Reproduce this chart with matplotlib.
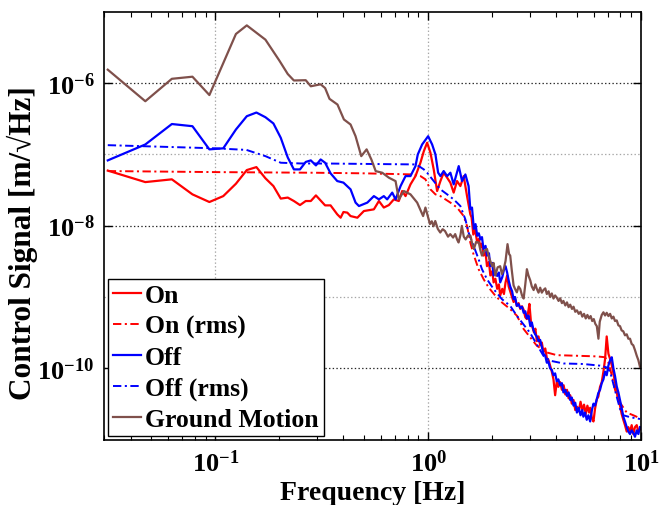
import matplotlib
matplotlib.use('Agg')
import matplotlib.pyplot as plt
from matplotlib.ticker import NullLocator, NullFormatter

# ---- data (frequency in Hz, amplitude in m/sqrt(Hz)) ----
f_on = [0.03125, 0.0469, 0.0625, 0.0781, 0.0938, 0.109, 0.125, 0.1406, 0.156, 0.172,
        0.1875, 0.203, 0.219, 0.234, 0.25, 0.266, 0.281, 0.297, 0.3125, 0.328,
        0.348, 0.374, 0.388, 0.40, 0.417, 0.432, 0.465, 0.499, 0.556, 0.587,
        0.619, 0.654, 0.690, 0.728, 0.755, 0.783, 0.826, 0.872, 0.920, 0.954,
        0.989, 1.025, 1.062, 1.102, 1.142, 1.183, 1.228, 1.272, 1.318, 1.367,
        1.417, 1.469, 1.523, 1.578, 1.60, 1.63, 1.66, 1.70, 1.73, 1.76,
        1.79, 1.82, 1.86, 1.89, 1.93, 1.96, 2.00, 2.03, 2.07, 2.11,
        2.15, 2.18, 2.23, 2.27, 2.31, 2.35, 2.39, 2.43, 2.48, 2.52,
        2.56, 2.61, 2.66, 2.71, 2.76, 2.81, 2.86, 2.91, 2.96, 2.99,
        3.04, 3.09, 3.14, 3.19, 3.24, 3.30, 3.36, 3.42, 3.48, 3.55,
        3.61, 3.68, 3.74, 3.81, 3.88, 3.95, 4.02, 4.09, 4.17, 4.25,
        4.33, 4.41, 4.49, 4.57, 4.65, 4.73, 4.82, 4.91, 5.00, 5.10,
        5.20, 5.30, 5.40, 5.50, 5.60, 5.70, 5.77, 5.88, 5.98, 6.08,
        6.20, 6.30, 6.42, 6.54, 6.66, 6.78, 6.90, 7.03, 7.16, 7.29,
        7.42, 7.55, 7.69, 7.83, 7.97, 8.11, 8.26, 8.41, 8.57, 8.72,
        8.88, 9.04, 9.20, 9.37, 9.55, 9.72, 9.89]
on_psd = [5.9e-8, 4.07e-8, 4.45e-8, 2.74e-8, 2.14e-8, 2.59e-8, 3.86e-8, 6.0e-8, 6.6e-8, 4.6e-8,
          3.58e-8, 2.39e-8, 2.47e-8, 2.21e-8, 1.94e-8, 2.21e-8, 2.21e-8, 2.65e-8, 2.25e-8, 1.92e-8,
          1.92e-8, 1.44e-8, 1.29e-8, 1.55e-8, 1.52e-8, 1.36e-8, 1.29e-8, 1.60e-8, 1.69e-8, 2.21e-8,
          1.79e-8, 1.94e-8, 2.33e-8, 2.21e-8, 3.05e-8, 2.59e-8, 3.78e-8, 4.94e-8, 7.6e-8, 1.10e-7,
          1.45e-7, 1.05e-7, 6.13e-8, 3.05e-8, 4.21e-8, 5.51e-8, 4.69e-8, 3.99e-8, 2.9e-8, 4.21e-8,
          3.58e-8, 4.94e-8, 2.59e-8, 1.44e-8, 1.3e-8, 7.5e-9, 9.0e-9, 5.8e-9, 6.5e-9, 5.0e-9,
          5.6e-9, 3.8e-9, 4.2e-9, 2.7e-9, 3.1e-9, 2.0e-9, 2.3e-9, 1.6e-9, 1.8e-9, 1.3e-9,
          1.5e-9, 1.05e-9, 1.3e-9, 1.1e-9, 1.6e-9, 2.0e-9, 1.4e-9, 1.2e-9, 1.0e-9, 8.5e-10,
          9.5e-10, 7.5e-10, 8.2e-10, 6.8e-10, 7.4e-10, 6.6e-10, 5.2e-10, 4.9e-10, 6.5e-10, 8.0e-10,
          4.5e-10, 3.8e-10, 3.2e-10, 3.6e-10, 2.4e-10, 2.8e-10, 2.1e-10, 2.3e-10, 1.7e-10, 1.9e-10,
          1.4e-10, 1.3e-10, 1.1e-10, 9.0e-11, 7.0e-11, 4.2e-11, 6.5e-11, 5.5e-11, 6.4e-11, 5.0e-11,
          5.8e-11, 4.3e-11, 5.0e-11, 3.8e-11, 4.2e-11, 3.2e-11, 3.6e-11, 2.6e-11, 2.9e-11, 2.5e-11,
          3.4e-11, 2.6e-11, 3.1e-11, 2.3e-11, 3.0e-11, 2.4e-11, 2.8e-11, 2.0e-11, 1.8e-11, 2.7e-11,
          3.7e-11, 4.0e-11, 5.5e-11, 6.4e-11, 9.0e-11, 1.35e-10, 2.8e-10, 1.6e-10, 1.35e-10, 1.1e-10,
          8.5e-11, 6.4e-11, 4.6e-11, 3.6e-11, 3.0e-11, 2.3e-11, 1.9e-11, 1.6e-11, 1.3e-11, 1.5e-11,
          1.3e-11, 1.6e-11, 1.2e-11, 1.5e-11, 1.6e-11, 1.3e-11, 1.4e-11]

f_on_rms = [0.03125, 0.1, 0.3, 0.5, 0.856, 0.92, 0.971, 1.025, 1.082, 1.142,
            1.272, 1.367, 1.469, 1.523, 1.578, 1.636, 1.726, 1.823, 1.923, 2.07,
            2.223, 2.43, 2.614, 2.81, 3.243, 3.61, 4.02, 5.0, 6.2, 6.78,
            7.03, 7.29, 7.55, 7.97, 8.57, 9.2, 9.89]
on_rms = [5.81e-8, 5.62e-8, 5.5e-8, 5.4e-8, 5.21e-8, 4.94e-8, 4.45e-8, 3.22e-8, 2.74e-8, 2.59e-8,
          2.10e-8, 1.79e-8, 1.36e-8, 9.9e-9, 5.78e-9, 3.9e-9, 2.45e-9, 1.77e-9, 1.36e-9, 1.04e-9,
          8.37e-10, 6.75e-10, 5.45e-10, 3.55e-10, 2.07e-10, 1.67e-10, 1.53e-10, 1.50e-10, 1.47e-10, 1.43e-10,
          1.2e-10, 8.0e-11, 5.0e-11, 3.3e-11, 2.4e-11, 2.2e-11, 2.0e-11]

f_off = [0.03125, 0.0469, 0.0625, 0.0781, 0.0938, 0.109, 0.125, 0.1406, 0.156, 0.172,
         0.1875, 0.203, 0.219, 0.234, 0.25, 0.266, 0.281, 0.297, 0.3125, 0.328,
         0.348, 0.374, 0.40, 0.432, 0.456, 0.473, 0.518, 0.556, 0.587, 0.619,
         0.642, 0.678, 0.703, 0.742, 0.783, 0.826, 0.872, 0.894, 0.937, 1.0,
         1.044, 1.082, 1.114, 1.142, 1.183, 1.228, 1.272, 1.318, 1.392, 1.443,
         1.496, 1.549, 1.578, 1.607, 1.64, 1.67, 1.70, 1.73, 1.76, 1.79,
         1.82, 1.86, 1.89, 1.93, 1.96, 2.00, 2.03, 2.07, 2.11, 2.15,
         2.18, 2.23, 2.27, 2.31, 2.35, 2.39, 2.43, 2.48, 2.52, 2.56,
         2.61, 2.66, 2.71, 2.76, 2.81, 2.86, 2.91, 2.96, 3.02, 3.07,
         3.12, 3.18, 3.24, 3.30, 3.36, 3.42, 3.48, 3.55, 3.61, 3.67,
         3.74, 3.81, 3.88, 3.95, 4.02, 4.09, 4.17, 4.25, 4.32, 4.41,
         4.49, 4.57, 4.65, 4.73, 4.82, 4.91, 5.00, 5.10, 5.20, 5.30,
         5.36, 5.46, 5.56, 5.66, 5.77, 5.88, 5.98, 6.08, 6.20, 6.30,
         6.42, 6.54, 6.66, 6.78, 6.90, 7.03, 7.16, 7.29, 7.42, 7.55,
         7.69, 7.83, 7.97, 8.11, 8.26, 8.41, 8.57, 8.72, 8.88, 9.04,
         9.20, 9.37, 9.55, 9.72, 9.89]
off_psd = [8.2e-8, 1.37e-7, 2.65e-7, 2.47e-7, 1.17e-7, 1.21e-7, 2.22e-7, 3.41e-7, 3.84e-7, 3.3e-7,
           2.7e-7, 1.70e-7, 9.0e-8, 6.13e-8, 6.13e-8, 7.8e-8, 8.2e-8, 6.97e-8, 8.45e-8, 7.6e-8,
           5.4e-8, 4.21e-8, 4.0e-8, 3.22e-8, 2.10e-8, 1.88e-8, 2.10e-8, 2.59e-8, 2.33e-8, 2.59e-8,
           2.33e-8, 2.9e-8, 2.33e-8, 3.58e-8, 4.94e-8, 4.94e-8, 6.82e-8, 9.93e-8, 1.37e-7, 1.79e-7,
           1.37e-7, 9.93e-8, 5.51e-8, 4.94e-8, 5.81e-8, 4.94e-8, 5.51e-8, 3.78e-8, 6.82e-8, 4.21e-8,
           5.21e-8, 3.58e-8, 1.69e-8, 1.79e-8, 9.0e-9, 1.05e-8, 7.2e-9, 7.8e-9, 6.4e-9, 6.9e-9,
           4.7e-9, 5.2e-9, 3.8e-9, 4.1e-9, 2.7e-9, 3.0e-9, 2.0e-9, 2.3e-9, 1.97e-9, 2.2e-9,
           1.6e-9, 1.9e-9, 2.4e-9, 2.7e-9, 2.2e-9, 1.7e-9, 1.4e-9, 1.2e-9, 9.3e-10, 1.0e-9,
           7.5e-10, 7.9e-10, 7.0e-10, 7.3e-10, 6.0e-10, 6.3e-10, 5.0e-10, 5.5e-10, 3.9e-10, 4.4e-10,
           3.5e-10, 3.0e-10, 2.8e-10, 2.4e-10, 2.5e-10, 2.0e-10, 1.6e-10, 1.5e-10, 1.2e-10, 1.25e-10,
           1.0e-10, 9.5e-11, 8.0e-11, 8.5e-11, 6.6e-11, 7.0e-11, 5.8e-11, 6.2e-11, 4.6e-11, 5.0e-11,
           4.1e-11, 4.6e-11, 3.6e-11, 3.9e-11, 3.0e-11, 3.3e-11, 2.4e-11, 2.8e-11, 2.2e-11, 2.6e-11,
           2.1e-11, 2.4e-11, 1.9e-11, 2.2e-11, 1.8e-11, 2.6e-11, 3.2e-11, 3.0e-11, 3.7e-11, 4.5e-11,
           5.0e-11, 6.2e-11, 7.0e-11, 9.0e-11, 8.0e-11, 1.1e-10, 1.3e-10, 1.43e-10, 1.0e-10, 7.8e-11,
           5.6e-11, 4.6e-11, 3.6e-11, 2.8e-11, 2.1e-11, 1.8e-11, 1.5e-11, 1.3e-11, 1.2e-11, 1.35e-11,
           1.25e-11, 1.1e-11, 1.35e-11, 1.2e-11, 1.5e-11]

f_off_rms = [0.03125, 0.1, 0.14, 0.172, 0.203, 0.25, 0.35, 0.856, 0.904, 0.954,
             0.989, 1.062, 1.142, 1.228, 1.318, 1.417, 1.496, 1.549, 1.636, 1.726,
             1.79, 1.891, 2.03, 2.223, 2.43, 2.61, 3.02, 3.48, 3.74, 4.32,
             5.36, 6.42, 6.9, 7.16, 7.42, 7.69, 7.97, 8.26, 8.88, 9.89]
off_rms = [1.34e-7, 1.21e-7, 1.15e-7, 9.4e-8, 7.6e-8, 7.43e-8, 7.4e-8, 7.2e-8, 6.82e-8, 6.13e-8,
           5.51e-8, 4.21e-8, 3.22e-8, 2.74e-8, 2.33e-8, 1.88e-8, 1.22e-8, 7.98e-9, 5.19e-9, 3.38e-9,
           2.45e-9, 1.77e-9, 1.29e-9, 9.3e-10, 7.5e-10, 5.45e-10, 3.1e-10, 1.5e-10, 1.28e-10, 1.17e-10,
           1.15e-10, 1.09e-10, 1.03e-10, 9.0e-11, 6.0e-11, 4.0e-11, 2.7e-11, 2.2e-11, 2.07e-11, 1.95e-11]

f_ground = [0.03125, 0.0469, 0.0625, 0.0781, 0.0938, 0.125, 0.1406, 0.172, 0.20, 0.219,
            0.234, 0.266, 0.281, 0.3125, 0.328, 0.344, 0.375, 0.402, 0.432, 0.456,
            0.485, 0.514, 0.541, 0.567, 0.609, 0.654, 0.703, 0.728, 0.769, 0.826,
            0.888, 0.947, 0.971, 1.00, 1.02, 1.04, 1.06, 1.08, 1.11, 1.14,
            1.17, 1.20, 1.24, 1.27, 1.31, 1.34, 1.37, 1.39, 1.42, 1.44,
            1.47, 1.50, 1.54, 1.58, 1.61, 1.64, 1.68, 1.73, 1.76, 1.79,
            1.83, 1.89, 1.93, 2.00, 2.03, 2.07, 2.12, 2.18, 2.22, 2.26,
            2.31, 2.36, 2.40, 2.43, 2.47, 2.52, 2.56, 2.61, 2.66, 2.71,
            2.76, 2.81, 2.86, 2.91, 2.96, 3.02, 3.07, 3.13, 3.19, 3.24,
            3.30, 3.36, 3.42, 3.48, 3.55, 3.61, 3.68, 3.74, 3.81, 3.88,
            3.95, 4.02, 4.10, 4.17, 4.25, 4.32, 4.41, 4.49, 4.57, 4.65,
            4.74, 4.82, 4.91, 5.00, 5.10, 5.20, 5.30, 5.40, 5.50, 5.60,
            5.70, 5.80, 5.90, 6.00, 6.10, 6.20, 6.31, 6.40, 6.54, 6.66,
            6.78, 6.90, 7.03, 7.16, 7.29, 7.42, 7.55, 7.69, 7.83, 7.97,
            8.11, 8.26, 8.41, 8.57, 8.72, 8.88, 9.04, 9.20, 9.37, 9.55,
            9.72, 9.89]
ground_psd = [1.53e-6, 5.53e-7, 1.14e-6, 1.22e-6, 6.75e-7, 4.84e-6, 6.39e-6, 4.03e-6, 2.05e-6, 1.33e-6,
              1.08e-6, 1.09e-6, 8.96e-7, 9.55e-7, 8.46e-7, 5.97e-7, 4.97e-7, 3.07e-7, 2.61e-7, 1.79e-7,
              9.4e-8, 1.17e-7, 8.45e-8, 5.8e-8, 5.5e-8, 4.69e-8, 4.2e-8, 2.33e-8, 3.05e-8, 2.74e-8,
              2.1e-8, 1.36e-8, 1.79e-8, 1.31e-8, 1.05e-8, 1.15e-8, 9.8e-9, 1.16e-8, 9.0e-9, 8.0e-9,
              8.9e-9, 8.4e-9, 7.0e-9, 7.6e-9, 6.8e-9, 7.6e-9, 6.3e-9, 5.8e-9, 7.5e-9, 9.9e-9,
              7.0e-9, 6.4e-9, 7.3e-9, 7.2e-9, 5.6e-9, 4.7e-9, 5.9e-9, 5.8e-9, 4.5e-9, 3.8e-9,
              4.4e-9, 4.7e-9, 3.6e-9, 2.7e-9, 3.0e-9, 2.0e-9, 2.6e-9, 2.7e-9, 2.1e-9, 2.4e-9,
              3.2e-9, 5.5e-9, 4.0e-9, 3.8e-9, 2.4e-9, 1.45e-9, 1.3e-9, 1.16e-9, 1.4e-9, 1.29e-9,
              1.05e-9, 9.5e-10, 1.5e-9, 2.45e-9, 2.0e-9, 1.7e-9, 1.4e-9, 1.25e-9, 1.5e-9, 1.3e-9,
              1.15e-9, 1.35e-9, 1.15e-9, 1.25e-9, 1.32e-9, 1.1e-9, 1.2e-9, 1.0e-9, 1.12e-9, 9.5e-10,
              1.05e-9, 9.8e-10, 8.8e-10, 9.6e-10, 8.2e-10, 8.8e-10, 7.6e-10, 8.4e-10, 7.2e-10, 7.8e-10,
              6.8e-10, 7.3e-10, 6.2e-10, 6.5e-10, 5.8e-10, 6.2e-10, 5.3e-10, 5.8e-10, 5.0e-10, 5.6e-10,
              5.0e-10, 5.4e-10, 4.6e-10, 4.9e-10, 4.2e-10, 3.9e-10, 2.6e-10, 4.5e-10, 5.6e-10, 6.1e-10,
              5.5e-10, 6.0e-10, 5.4e-10, 5.8e-10, 5.0e-10, 5.3e-10, 4.6e-10, 4.7e-10, 4.0e-10, 3.9e-10,
              3.4e-10, 3.3e-10, 2.9e-10, 3.0e-10, 2.6e-10, 2.6e-10, 2.2e-10, 2.1e-10, 1.8e-10, 1.5e-10,
              1.3e-10, 1.05e-10]

x_ticks = [0.1, 1, 10]
x_tick_labels = [r'$10^{-1}$', r'$10^{0}$', r'$10^{1}$']
y_ticks = [1e-10, 1e-8, 1e-6]
y_tick_labels = [r'$10^{-10}$', r'$10^{-8}$', r'$10^{-6}$']
y_grid_minor = [1e-9, 1e-7]

# ---- style ----
plt.rcParams['font.family'] = ['Liberation Serif', 'DejaVu Serif']
plt.rcParams['font.weight'] = 'bold'
plt.rcParams['mathtext.fontset'] = 'custom'
plt.rcParams['mathtext.rm'] = 'Liberation Serif:bold'
plt.rcParams['mathtext.bf'] = 'Liberation Serif:bold'
plt.rcParams['mathtext.it'] = 'Liberation Serif:bold:italic'
plt.rcParams['lines.scale_dashes'] = False

red = '#ff0000'
blue = '#0000ff'
brown = '#7f504b'
dashdot = (0, (6, 2.5, 1.5, 2.5))

fig = plt.figure(figsize=(6.68, 5.06), dpi=100)
ax = fig.add_axes([104 / 668, 1 - 440.7 / 506, (641 - 104) / 668, (440.7 - 12.5) / 506])

ax.loglog(f_on, on_psd, color=red, lw=1.6, label='On')
ax.loglog(f_on_rms, on_rms, color=red, lw=1.4, ls=dashdot, label='On (rms)')
ax.loglog(f_off, off_psd, color=blue, lw=1.6, label='Off')
ax.loglog(f_off_rms, off_rms, color=blue, lw=1.4, ls=dashdot, label='Off (rms)')
ax.loglog(f_ground, ground_psd, color=brown, lw=1.6, label='Ground Motion')

ax.set_xlim(0.03, 10)
ax.set_ylim(1e-11, 1e-5)

ax.set_xticks(x_ticks)
ax.set_xticklabels(x_tick_labels)
ax.set_yticks(y_ticks)
ax.set_yticklabels(y_tick_labels)
ax.yaxis.set_minor_locator(NullLocator())
ax.set_yticks(y_grid_minor, minor=True)
ax.yaxis.set_minor_formatter(NullFormatter())

ax.tick_params(which='both', direction='in', top=True, right=True, labelsize=19)
ax.tick_params(which='major', length=6, width=1, pad=7)
ax.tick_params(which='minor', length=3.5, width=0.8)
ax.tick_params(axis='y', which='minor', length=0)

ax.grid(True, which='major', axis='x', color='0.65', ls=':', lw=0.9)
ax.grid(True, which='major', axis='y', color='0.15', ls=':', lw=0.9)
ax.grid(True, which='minor', axis='y', color='0.65', ls=':', lw=0.9)
ax.set_axisbelow(True)
for sp in ax.spines.values():
    sp.set_linewidth(1.2)

ax.set_xlabel('Frequency [Hz]', fontsize=20, fontweight='bold', labelpad=3)
ax.set_ylabel('Control Signal [m/\u221aHz]', fontsize=22.5, fontweight='bold')
ax.yaxis.set_label_coords(-0.122, 0.462)

leg = ax.legend(loc='lower left', fontsize=18.5, handlelength=1.1, handletextpad=0.15,
                borderpad=0.2, labelspacing=0.3, borderaxespad=0.15,
                fancybox=False, framealpha=1, edgecolor='black')
leg.get_frame().set_linewidth(1.0)

fig.savefig('out.png', dpi=100)
